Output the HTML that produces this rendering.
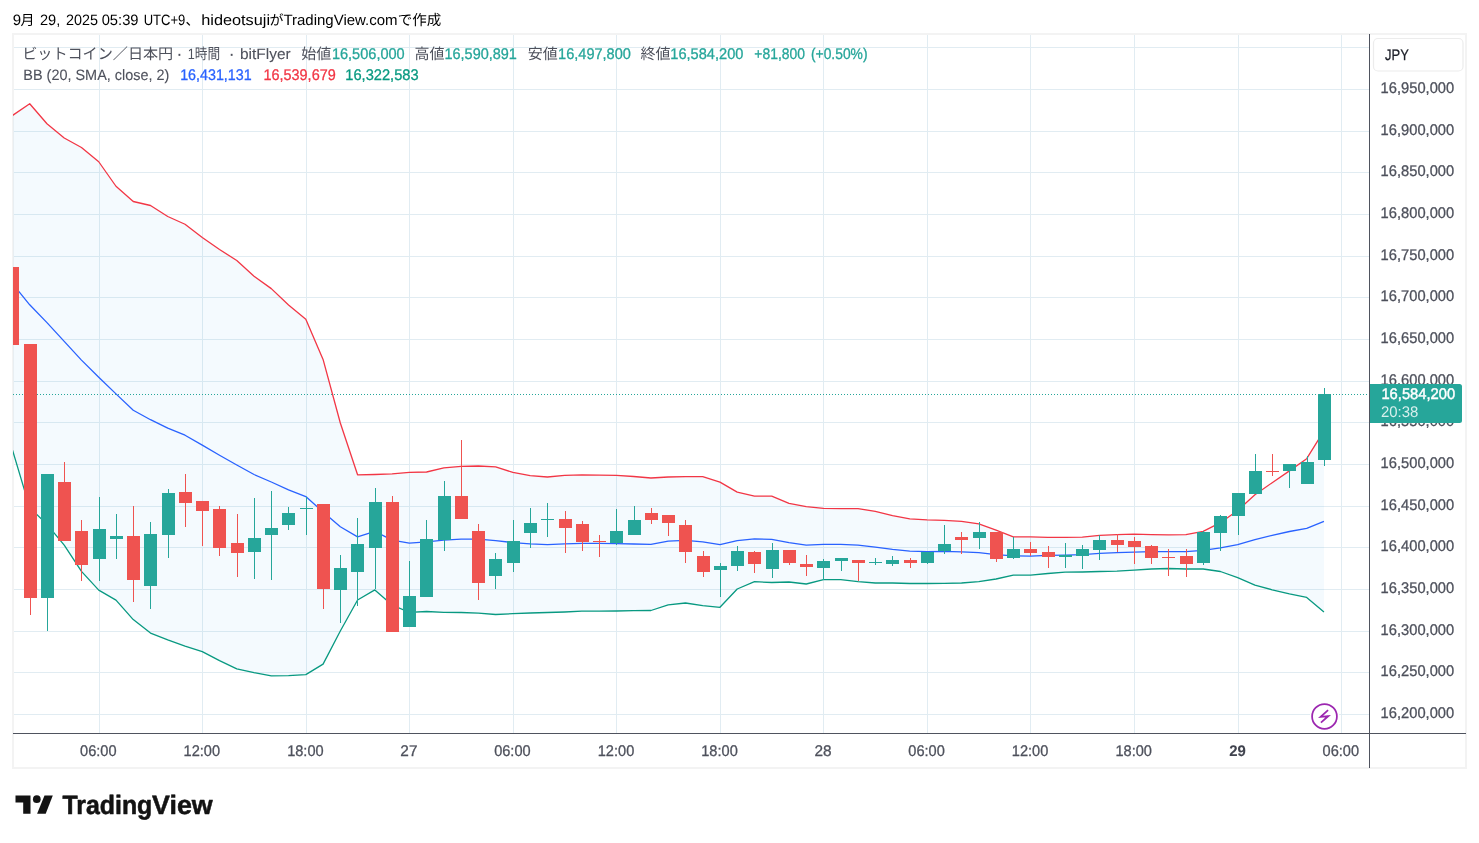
<!DOCTYPE html>
<html lang="ja"><head><meta charset="utf-8"><title>BTCJPY chart</title>
<style>html,body{margin:0;padding:0;background:#fff;}body{width:1479px;height:843px;overflow:hidden;position:relative;}svg{position:absolute;left:0;top:0;display:block;}text{font-family:"Liberation Sans","Noto Sans CJK JP",sans-serif;white-space:pre;text-rendering:geometricPrecision;}</style></head><body>
<svg width="1479" height="843" viewBox="0 0 1479 843">
<rect x="13" y="34" width="1453" height="734" fill="#fff" stroke="#f3f3f3" stroke-width="2"/>
<defs><clipPath id="pane"><rect x="13" y="35" width="1356" height="698"/></clipPath></defs>
<g shape-rendering="crispEdges" fill="#e1ecf2">
<rect x="14" y="47" width="1355" height="1"/>
<rect x="14" y="89" width="1355" height="1"/>
<rect x="14" y="131" width="1355" height="1"/>
<rect x="14" y="172" width="1355" height="1"/>
<rect x="14" y="214" width="1355" height="1"/>
<rect x="14" y="256" width="1355" height="1"/>
<rect x="14" y="297" width="1355" height="1"/>
<rect x="14" y="339" width="1355" height="1"/>
<rect x="14" y="381" width="1355" height="1"/>
<rect x="14" y="422" width="1355" height="1"/>
<rect x="14" y="464" width="1355" height="1"/>
<rect x="14" y="506" width="1355" height="1"/>
<rect x="14" y="547" width="1355" height="1"/>
<rect x="14" y="589" width="1355" height="1"/>
<rect x="14" y="631" width="1355" height="1"/>
<rect x="14" y="672" width="1355" height="1"/>
<rect x="14" y="714" width="1355" height="1"/>
<rect x="99" y="35" width="1" height="698"/>
<rect x="202" y="35" width="1" height="698"/>
<rect x="306" y="35" width="1" height="698"/>
<rect x="409" y="35" width="1" height="698"/>
<rect x="513" y="35" width="1" height="698"/>
<rect x="616" y="35" width="1" height="698"/>
<rect x="720" y="35" width="1" height="698"/>
<rect x="823" y="35" width="1" height="698"/>
<rect x="927" y="35" width="1" height="698"/>
<rect x="1030" y="35" width="1" height="698"/>
<rect x="1134" y="35" width="1" height="698"/>
<rect x="1238" y="35" width="1" height="698"/>
<rect x="1341" y="35" width="1" height="698"/>
</g>
<g clip-path="url(#pane)">
<polygon points="12.45,115.50 29.71,103.75 46.96,123.75 64.22,138.00 81.48,147.50 98.73,161.75 115.99,186.25 133.25,201.50 150.50,205.50 167.76,216.50 185.02,224.25 202.27,237.50 219.53,249.50 236.78,260.50 254.04,276.20 271.30,288.60 288.55,305.00 305.81,319.30 323.07,359.40 340.32,423.00 357.58,474.80 374.84,474.50 392.09,473.90 409.35,472.40 426.61,472.00 443.86,467.90 461.12,466.30 478.38,466.00 495.63,466.90 512.89,472.40 530.14,475.60 547.40,477.00 564.66,475.30 581.91,474.80 599.17,475.10 616.43,475.30 633.68,476.50 650.94,478.00 668.20,477.00 685.45,476.70 702.71,476.70 719.97,482.10 737.22,492.10 754.48,496.10 771.74,496.10 788.99,503.40 806.25,506.60 823.51,508.40 840.76,508.60 858.02,508.60 875.27,511.40 892.53,515.60 909.79,518.90 927.04,519.90 944.30,520.30 961.56,521.40 978.81,523.90 996.07,530.20 1013.33,536.90 1030.58,536.90 1047.84,537.40 1065.10,537.40 1082.35,537.20 1099.61,535.40 1116.87,534.70 1134.12,534.20 1151.38,534.70 1168.64,534.90 1185.89,534.70 1203.15,531.40 1220.40,522.70 1237.66,510.50 1254.92,494.70 1272.17,482.70 1289.43,470.90 1306.69,458.70 1323.94,430.90 1323.94,612.00 1306.69,597.40 1289.43,593.90 1272.17,589.80 1254.92,585.20 1237.66,577.70 1220.40,571.50 1203.15,569.00 1185.89,569.00 1168.64,568.50 1151.38,569.00 1134.12,570.20 1116.87,571.20 1099.61,571.50 1082.35,572.00 1065.10,572.20 1047.84,573.50 1030.58,575.20 1013.33,575.20 996.07,579.00 978.81,581.70 961.56,583.00 944.30,583.40 927.04,583.50 909.79,583.50 892.53,583.00 875.27,583.00 858.02,581.70 840.76,579.70 823.51,579.70 806.25,584.00 788.99,582.00 771.74,582.50 754.48,581.70 737.22,589.00 719.97,607.30 702.71,605.70 685.45,603.00 668.20,604.90 650.94,610.50 633.68,610.70 616.43,611.00 599.17,611.20 581.91,611.20 564.66,612.00 547.40,612.50 530.14,613.00 512.89,613.70 495.63,614.50 478.38,613.20 461.12,612.50 443.86,612.30 426.61,611.50 409.35,612.40 392.09,605.00 374.84,589.90 357.58,600.00 340.32,631.00 323.07,664.10 305.81,674.60 288.55,675.60 271.30,675.90 254.04,672.60 236.78,668.80 219.53,660.60 202.27,651.60 185.02,646.10 167.76,639.90 150.50,633.10 133.25,619.60 115.99,600.10 98.73,590.10 81.48,571.40 64.22,545.10 46.96,524.40 29.71,507.60 12.45,450.00" fill="#2196f3" fill-opacity="0.05"/>
<polyline fill="none" stroke="#f23645" stroke-width="1.3" stroke-linejoin="round" points="12.45,115.50 29.71,103.75 46.96,123.75 64.22,138.00 81.48,147.50 98.73,161.75 115.99,186.25 133.25,201.50 150.50,205.50 167.76,216.50 185.02,224.25 202.27,237.50 219.53,249.50 236.78,260.50 254.04,276.20 271.30,288.60 288.55,305.00 305.81,319.30 323.07,359.40 340.32,423.00 357.58,474.80 374.84,474.50 392.09,473.90 409.35,472.40 426.61,472.00 443.86,467.90 461.12,466.30 478.38,466.00 495.63,466.90 512.89,472.40 530.14,475.60 547.40,477.00 564.66,475.30 581.91,474.80 599.17,475.10 616.43,475.30 633.68,476.50 650.94,478.00 668.20,477.00 685.45,476.70 702.71,476.70 719.97,482.10 737.22,492.10 754.48,496.10 771.74,496.10 788.99,503.40 806.25,506.60 823.51,508.40 840.76,508.60 858.02,508.60 875.27,511.40 892.53,515.60 909.79,518.90 927.04,519.90 944.30,520.30 961.56,521.40 978.81,523.90 996.07,530.20 1013.33,536.90 1030.58,536.90 1047.84,537.40 1065.10,537.40 1082.35,537.20 1099.61,535.40 1116.87,534.70 1134.12,534.20 1151.38,534.70 1168.64,534.90 1185.89,534.70 1203.15,531.40 1220.40,522.70 1237.66,510.50 1254.92,494.70 1272.17,482.70 1289.43,470.90 1306.69,458.70 1323.94,430.90"/>
<polyline fill="none" stroke="#089981" stroke-width="1.3" stroke-linejoin="round" points="12.45,450.00 29.71,507.60 46.96,524.40 64.22,545.10 81.48,571.40 98.73,590.10 115.99,600.10 133.25,619.60 150.50,633.10 167.76,639.90 185.02,646.10 202.27,651.60 219.53,660.60 236.78,668.80 254.04,672.60 271.30,675.90 288.55,675.60 305.81,674.60 323.07,664.10 340.32,631.00 357.58,600.00 374.84,589.90 392.09,605.00 409.35,612.40 426.61,611.50 443.86,612.30 461.12,612.50 478.38,613.20 495.63,614.50 512.89,613.70 530.14,613.00 547.40,612.50 564.66,612.00 581.91,611.20 599.17,611.20 616.43,611.00 633.68,610.70 650.94,610.50 668.20,604.90 685.45,603.00 702.71,605.70 719.97,607.30 737.22,589.00 754.48,581.70 771.74,582.50 788.99,582.00 806.25,584.00 823.51,579.70 840.76,579.70 858.02,581.70 875.27,583.00 892.53,583.00 909.79,583.50 927.04,583.50 944.30,583.40 961.56,583.00 978.81,581.70 996.07,579.00 1013.33,575.20 1030.58,575.20 1047.84,573.50 1065.10,572.20 1082.35,572.00 1099.61,571.50 1116.87,571.20 1134.12,570.20 1151.38,569.00 1168.64,568.50 1185.89,569.00 1203.15,569.00 1220.40,571.50 1237.66,577.70 1254.92,585.20 1272.17,589.80 1289.43,593.90 1306.69,597.40 1323.94,612.00"/>
<polyline fill="none" stroke="#2962ff" stroke-width="1.3" stroke-linejoin="round" points="12.45,283.50 29.71,304.80 46.96,322.60 64.22,341.40 81.48,360.10 98.73,377.20 115.99,393.90 133.25,410.20 150.50,419.70 167.76,428.20 185.02,435.20 202.27,445.10 219.53,455.20 236.78,465.00 254.04,474.50 271.30,482.00 288.55,489.80 305.81,496.60 323.07,512.00 340.32,526.80 357.58,536.90 374.84,531.40 392.09,540.10 409.35,543.10 426.61,541.90 443.86,540.10 461.12,539.10 478.38,539.10 495.63,540.60 512.89,542.60 530.14,543.90 547.40,544.60 564.66,543.90 581.91,543.40 599.17,543.40 616.43,543.60 633.68,544.00 650.94,544.40 668.20,541.10 685.45,540.30 702.71,541.80 719.97,544.70 737.22,540.70 754.48,538.90 771.74,539.40 788.99,542.70 806.25,545.20 823.51,544.40 840.76,544.40 858.02,545.20 875.27,547.20 892.53,549.40 909.79,551.20 927.04,551.70 944.30,551.30 961.56,551.90 978.81,552.70 996.07,554.70 1013.33,555.90 1030.58,556.20 1047.84,555.40 1065.10,555.20 1082.35,554.70 1099.61,553.40 1116.87,552.70 1134.12,552.20 1151.38,551.70 1168.64,551.70 1185.89,551.70 1203.15,550.40 1220.40,547.90 1237.66,544.70 1254.92,539.70 1272.17,535.40 1289.43,531.50 1306.69,528.30 1323.94,521.40"/>
</g>
<line x1="13" y1="394.5" x2="1368" y2="394.5" stroke="#26a69a" stroke-width="1" stroke-dasharray="1 2" shape-rendering="crispEdges"/>
<g clip-path="url(#pane)" shape-rendering="crispEdges">
<rect x="12" y="267" width="1" height="78" fill="#ef5350"/>
<rect x="6" y="267" width="13" height="78" fill="#ef5350"/>
<rect x="30" y="344" width="1" height="271" fill="#ef5350"/>
<rect x="24" y="344" width="13" height="254" fill="#ef5350"/>
<rect x="47" y="474" width="1" height="157" fill="#26a69a"/>
<rect x="41" y="474" width="13" height="124" fill="#26a69a"/>
<rect x="64" y="462" width="1" height="79" fill="#ef5350"/>
<rect x="58" y="482" width="13" height="59" fill="#ef5350"/>
<rect x="81" y="520" width="1" height="61" fill="#ef5350"/>
<rect x="75" y="531" width="13" height="34" fill="#ef5350"/>
<rect x="99" y="497" width="1" height="84" fill="#26a69a"/>
<rect x="93" y="529" width="13" height="30" fill="#26a69a"/>
<rect x="116" y="514" width="1" height="45" fill="#26a69a"/>
<rect x="110" y="536" width="13" height="3" fill="#26a69a"/>
<rect x="133" y="506" width="1" height="96" fill="#ef5350"/>
<rect x="127" y="536" width="13" height="44" fill="#ef5350"/>
<rect x="150" y="522" width="1" height="87" fill="#26a69a"/>
<rect x="144" y="534" width="13" height="52" fill="#26a69a"/>
<rect x="168" y="489" width="1" height="69" fill="#26a69a"/>
<rect x="162" y="493" width="13" height="42" fill="#26a69a"/>
<rect x="185" y="474" width="1" height="53" fill="#ef5350"/>
<rect x="179" y="492" width="13" height="11" fill="#ef5350"/>
<rect x="202" y="501" width="1" height="45" fill="#ef5350"/>
<rect x="196" y="501" width="13" height="10" fill="#ef5350"/>
<rect x="219" y="506" width="1" height="50" fill="#ef5350"/>
<rect x="213" y="509" width="13" height="39" fill="#ef5350"/>
<rect x="237" y="514" width="1" height="63" fill="#ef5350"/>
<rect x="231" y="543" width="13" height="10" fill="#ef5350"/>
<rect x="254" y="498" width="1" height="81" fill="#26a69a"/>
<rect x="248" y="538" width="13" height="14" fill="#26a69a"/>
<rect x="271" y="491" width="1" height="89" fill="#26a69a"/>
<rect x="265" y="528" width="13" height="7" fill="#26a69a"/>
<rect x="288" y="507" width="1" height="23" fill="#26a69a"/>
<rect x="282" y="513" width="13" height="12" fill="#26a69a"/>
<rect x="306" y="497" width="1" height="38" fill="#26a69a"/>
<rect x="300" y="508" width="13" height="1" fill="#26a69a"/>
<rect x="323" y="504" width="1" height="105" fill="#ef5350"/>
<rect x="317" y="504" width="13" height="85" fill="#ef5350"/>
<rect x="340" y="555" width="1" height="68" fill="#26a69a"/>
<rect x="334" y="568" width="13" height="22" fill="#26a69a"/>
<rect x="357" y="518" width="1" height="88" fill="#26a69a"/>
<rect x="351" y="544" width="13" height="28" fill="#26a69a"/>
<rect x="375" y="488" width="1" height="101" fill="#26a69a"/>
<rect x="369" y="502" width="13" height="46" fill="#26a69a"/>
<rect x="392" y="496" width="1" height="136" fill="#ef5350"/>
<rect x="386" y="502" width="13" height="130" fill="#ef5350"/>
<rect x="409" y="561" width="1" height="66" fill="#26a69a"/>
<rect x="403" y="596" width="13" height="31" fill="#26a69a"/>
<rect x="426" y="520" width="1" height="77" fill="#26a69a"/>
<rect x="420" y="539" width="13" height="58" fill="#26a69a"/>
<rect x="444" y="481" width="1" height="70" fill="#26a69a"/>
<rect x="438" y="496" width="13" height="44" fill="#26a69a"/>
<rect x="461" y="440" width="1" height="79" fill="#ef5350"/>
<rect x="455" y="496" width="13" height="23" fill="#ef5350"/>
<rect x="478" y="524" width="1" height="76" fill="#ef5350"/>
<rect x="472" y="531" width="13" height="52" fill="#ef5350"/>
<rect x="495" y="553" width="1" height="36" fill="#26a69a"/>
<rect x="489" y="559" width="13" height="17" fill="#26a69a"/>
<rect x="513" y="520" width="1" height="52" fill="#26a69a"/>
<rect x="507" y="541" width="13" height="22" fill="#26a69a"/>
<rect x="530" y="508" width="1" height="40" fill="#26a69a"/>
<rect x="524" y="523" width="13" height="10" fill="#26a69a"/>
<rect x="547" y="503" width="1" height="34" fill="#26a69a"/>
<rect x="541" y="519" width="13" height="1" fill="#26a69a"/>
<rect x="565" y="511" width="1" height="42" fill="#ef5350"/>
<rect x="559" y="519" width="13" height="9" fill="#ef5350"/>
<rect x="582" y="521" width="1" height="30" fill="#ef5350"/>
<rect x="576" y="524" width="13" height="18" fill="#ef5350"/>
<rect x="599" y="535" width="1" height="22" fill="#ef5350"/>
<rect x="593" y="541" width="13" height="1" fill="#ef5350"/>
<rect x="616" y="509" width="1" height="36" fill="#26a69a"/>
<rect x="610" y="531" width="13" height="12" fill="#26a69a"/>
<rect x="634" y="506" width="1" height="29" fill="#26a69a"/>
<rect x="628" y="520" width="13" height="15" fill="#26a69a"/>
<rect x="651" y="508" width="1" height="16" fill="#ef5350"/>
<rect x="645" y="513" width="13" height="7" fill="#ef5350"/>
<rect x="668" y="515" width="1" height="21" fill="#ef5350"/>
<rect x="662" y="515" width="13" height="8" fill="#ef5350"/>
<rect x="685" y="520" width="1" height="43" fill="#ef5350"/>
<rect x="679" y="525" width="13" height="27" fill="#ef5350"/>
<rect x="703" y="551" width="1" height="26" fill="#ef5350"/>
<rect x="697" y="556" width="13" height="16" fill="#ef5350"/>
<rect x="720" y="563" width="1" height="34" fill="#26a69a"/>
<rect x="714" y="566" width="13" height="4" fill="#26a69a"/>
<rect x="737" y="546" width="1" height="25" fill="#26a69a"/>
<rect x="731" y="551" width="13" height="15" fill="#26a69a"/>
<rect x="754" y="551" width="1" height="22" fill="#ef5350"/>
<rect x="748" y="552" width="13" height="12" fill="#ef5350"/>
<rect x="772" y="543" width="1" height="35" fill="#26a69a"/>
<rect x="766" y="550" width="13" height="19" fill="#26a69a"/>
<rect x="789" y="550" width="1" height="15" fill="#ef5350"/>
<rect x="783" y="550" width="13" height="13" fill="#ef5350"/>
<rect x="806" y="555" width="1" height="21" fill="#ef5350"/>
<rect x="800" y="564" width="13" height="3" fill="#ef5350"/>
<rect x="823" y="559" width="1" height="21" fill="#26a69a"/>
<rect x="817" y="561" width="13" height="7" fill="#26a69a"/>
<rect x="841" y="558" width="1" height="13" fill="#26a69a"/>
<rect x="835" y="558" width="13" height="3" fill="#26a69a"/>
<rect x="858" y="560" width="1" height="21" fill="#ef5350"/>
<rect x="852" y="560" width="13" height="3" fill="#ef5350"/>
<rect x="875" y="558" width="1" height="7" fill="#26a69a"/>
<rect x="869" y="562" width="13" height="1" fill="#26a69a"/>
<rect x="892" y="556" width="1" height="10" fill="#26a69a"/>
<rect x="886" y="560" width="13" height="4" fill="#26a69a"/>
<rect x="910" y="558" width="1" height="10" fill="#ef5350"/>
<rect x="904" y="560" width="13" height="3" fill="#ef5350"/>
<rect x="927" y="552" width="1" height="12" fill="#26a69a"/>
<rect x="921" y="552" width="13" height="11" fill="#26a69a"/>
<rect x="944" y="525" width="1" height="29" fill="#26a69a"/>
<rect x="938" y="544" width="13" height="7" fill="#26a69a"/>
<rect x="961" y="532" width="1" height="22" fill="#ef5350"/>
<rect x="955" y="537" width="13" height="3" fill="#ef5350"/>
<rect x="979" y="522" width="1" height="27" fill="#26a69a"/>
<rect x="973" y="532" width="13" height="6" fill="#26a69a"/>
<rect x="996" y="532" width="1" height="30" fill="#ef5350"/>
<rect x="990" y="532" width="13" height="27" fill="#ef5350"/>
<rect x="1013" y="537" width="1" height="22" fill="#26a69a"/>
<rect x="1007" y="549" width="13" height="9" fill="#26a69a"/>
<rect x="1030" y="542" width="1" height="14" fill="#ef5350"/>
<rect x="1024" y="549" width="13" height="4" fill="#ef5350"/>
<rect x="1048" y="546" width="1" height="22" fill="#ef5350"/>
<rect x="1042" y="552" width="13" height="5" fill="#ef5350"/>
<rect x="1065" y="543" width="1" height="25" fill="#26a69a"/>
<rect x="1059" y="555" width="13" height="2" fill="#26a69a"/>
<rect x="1082" y="545" width="1" height="24" fill="#26a69a"/>
<rect x="1076" y="549" width="13" height="7" fill="#26a69a"/>
<rect x="1099" y="535" width="1" height="25" fill="#26a69a"/>
<rect x="1093" y="540" width="13" height="10" fill="#26a69a"/>
<rect x="1117" y="534" width="1" height="18" fill="#ef5350"/>
<rect x="1111" y="540" width="13" height="5" fill="#ef5350"/>
<rect x="1134" y="537" width="1" height="27" fill="#ef5350"/>
<rect x="1128" y="541" width="13" height="6" fill="#ef5350"/>
<rect x="1151" y="545" width="1" height="19" fill="#ef5350"/>
<rect x="1145" y="546" width="13" height="12" fill="#ef5350"/>
<rect x="1168" y="549" width="1" height="27" fill="#ef5350"/>
<rect x="1162" y="557" width="13" height="1" fill="#ef5350"/>
<rect x="1186" y="549" width="1" height="28" fill="#ef5350"/>
<rect x="1180" y="556" width="13" height="8" fill="#ef5350"/>
<rect x="1203" y="531" width="1" height="34" fill="#26a69a"/>
<rect x="1197" y="532" width="13" height="31" fill="#26a69a"/>
<rect x="1220" y="515" width="1" height="36" fill="#26a69a"/>
<rect x="1214" y="516" width="13" height="17" fill="#26a69a"/>
<rect x="1238" y="493" width="1" height="42" fill="#26a69a"/>
<rect x="1232" y="493" width="13" height="23" fill="#26a69a"/>
<rect x="1255" y="454" width="1" height="40" fill="#26a69a"/>
<rect x="1249" y="471" width="13" height="23" fill="#26a69a"/>
<rect x="1272" y="454" width="1" height="22" fill="#ef5350"/>
<rect x="1266" y="471" width="13" height="1" fill="#ef5350"/>
<rect x="1289" y="464" width="1" height="24" fill="#26a69a"/>
<rect x="1283" y="464" width="13" height="7" fill="#26a69a"/>
<rect x="1307" y="456" width="1" height="28" fill="#26a69a"/>
<rect x="1301" y="462" width="13" height="22" fill="#26a69a"/>
<rect x="1324" y="388" width="1" height="78" fill="#26a69a"/>
<rect x="1318" y="394" width="13" height="66" fill="#26a69a"/>
</g>
<g shape-rendering="crispEdges" fill="#4f535e">
<rect x="1369" y="34" width="1" height="734"/>
<rect x="13" y="733" width="1453" height="1"/>
</g>
<g transform="translate(1324.5,716.4)">
<circle r="14.7" fill="#fff"/>
<circle r="12.4" fill="#fff" stroke="#9c27b0" stroke-width="1.75"/>
<path d="M3.58,-6.26 L-3.9,0.38 L3.9,-0.38 L-3.58,6.26" fill="none" stroke="#9c27b0" stroke-width="1.75" stroke-linejoin="miter" stroke-miterlimit="12"/>
</g>
<rect x="1373.5" y="38.5" width="89.5" height="32.5" rx="4.5" fill="#fff" stroke="#ececec" stroke-width="1.2"/>
<text x="1385" y="60" font-size="15.3" fill="#1c1f28" stroke="#1c1f28" stroke-width="0.25" textLength="23.8" lengthAdjust="spacingAndGlyphs">JPY</text>
<g font-size="15.4" fill="#4e515c" stroke="#4e515c" stroke-width="0.3">
<text x="1380.6" y="93.0" textLength="73.6" lengthAdjust="spacingAndGlyphs">16,950,000</text>
<text x="1380.6" y="134.7" textLength="73.6" lengthAdjust="spacingAndGlyphs">16,900,000</text>
<text x="1380.6" y="176.3" textLength="73.6" lengthAdjust="spacingAndGlyphs">16,850,000</text>
<text x="1380.6" y="218.0" textLength="73.6" lengthAdjust="spacingAndGlyphs">16,800,000</text>
<text x="1380.6" y="259.7" textLength="73.6" lengthAdjust="spacingAndGlyphs">16,750,000</text>
<text x="1380.6" y="301.3" textLength="73.6" lengthAdjust="spacingAndGlyphs">16,700,000</text>
<text x="1380.6" y="343.0" textLength="73.6" lengthAdjust="spacingAndGlyphs">16,650,000</text>
<text x="1380.6" y="384.7" textLength="73.6" lengthAdjust="spacingAndGlyphs">16,600,000</text>
<text x="1380.6" y="426.3" textLength="73.6" lengthAdjust="spacingAndGlyphs">16,550,000</text>
<text x="1380.6" y="468.0" textLength="73.6" lengthAdjust="spacingAndGlyphs">16,500,000</text>
<text x="1380.6" y="509.7" textLength="73.6" lengthAdjust="spacingAndGlyphs">16,450,000</text>
<text x="1380.6" y="551.3" textLength="73.6" lengthAdjust="spacingAndGlyphs">16,400,000</text>
<text x="1380.6" y="593.0" textLength="73.6" lengthAdjust="spacingAndGlyphs">16,350,000</text>
<text x="1380.6" y="634.7" textLength="73.6" lengthAdjust="spacingAndGlyphs">16,300,000</text>
<text x="1380.6" y="676.3" textLength="73.6" lengthAdjust="spacingAndGlyphs">16,250,000</text>
<text x="1380.6" y="718.0" textLength="73.6" lengthAdjust="spacingAndGlyphs">16,200,000</text>
</g>
<path d="M1370,384 H1459.5 Q1462,384 1462,386.5 V420.5 Q1462,423 1459.5,423 H1370 Z" fill="#26a69a"/>
<text x="1381.4" y="398.5" font-size="15.4" fill="#fff" stroke="#fff" stroke-width="0.45" textLength="73.8" lengthAdjust="spacingAndGlyphs">16,584,200</text>
<text x="1380.9" y="416.6" font-size="15.4" fill="#fff" fill-opacity="0.82" textLength="37.4" lengthAdjust="spacingAndGlyphs">20:38</text>
<g font-size="15.4" fill="#4e515c" stroke="#4e515c" stroke-width="0.3" text-anchor="middle">
<text x="98.3" y="755.8" textLength="36.5" lengthAdjust="spacingAndGlyphs">06:00</text>
<text x="201.8" y="755.8" textLength="36.5" lengthAdjust="spacingAndGlyphs">12:00</text>
<text x="305.4" y="755.8" textLength="36.5" lengthAdjust="spacingAndGlyphs">18:00</text>
<text x="408.9" y="755.8">27</text>
<text x="512.4" y="755.8" textLength="36.5" lengthAdjust="spacingAndGlyphs">06:00</text>
<text x="616.0" y="755.8" textLength="36.5" lengthAdjust="spacingAndGlyphs">12:00</text>
<text x="719.5" y="755.8" textLength="36.5" lengthAdjust="spacingAndGlyphs">18:00</text>
<text x="823.1" y="755.8">28</text>
<text x="926.6" y="755.8" textLength="36.5" lengthAdjust="spacingAndGlyphs">06:00</text>
<text x="1030.1" y="755.8" textLength="36.5" lengthAdjust="spacingAndGlyphs">12:00</text>
<text x="1133.7" y="755.8" textLength="36.5" lengthAdjust="spacingAndGlyphs">18:00</text>
<text x="1237.5" y="755.8" font-weight="bold" fill="#40434e" stroke-width="0.1" textLength="16.6" lengthAdjust="spacingAndGlyphs">29</text>
<text x="1340.8" y="755.8" textLength="36.5" lengthAdjust="spacingAndGlyphs">06:00</text>
</g>
<g font-size="15" fill="#000">
<text y="24.5"><tspan x="12.8">9</tspan><tspan x="20.6" font-size="14">月 </tspan><tspan x="40.0" textLength="20.3" lengthAdjust="spacingAndGlyphs">29,</tspan><tspan x="60.5"> </tspan><tspan x="66.0" textLength="32" lengthAdjust="spacingAndGlyphs">2025</tspan><tspan x="98"> </tspan><tspan x="101.7" textLength="36.8" lengthAdjust="spacingAndGlyphs">05:39</tspan><tspan x="139.5"> </tspan><tspan x="143.7" textLength="41.6" lengthAdjust="spacingAndGlyphs">UTC+9</tspan><tspan x="185.4" font-size="14">、</tspan><tspan x="201.2" textLength="68.9" lengthAdjust="spacingAndGlyphs">hideotsuji</tspan><tspan x="269.6" font-size="14">が</tspan><tspan x="283.4" textLength="114.2" lengthAdjust="spacingAndGlyphs">TradingView.com</tspan><tspan x="397.7" font-size="14.5">で作成</tspan></text>
</g>
<text x="22.2" y="59.2" font-size="15" fill="#4e515c" textLength="151" lengthAdjust="spacingAndGlyphs">ビットコイン／日本円</text>
<text x="176.3" y="60.4" font-size="19" fill="#4e515c">·</text>
<text x="187.8" y="59.2" font-size="15" fill="#4e515c" stroke="#4e515c" stroke-width="0" textLength="32.4" lengthAdjust="spacingAndGlyphs">1時間</text>
<text x="228.6" y="60.4" font-size="19" fill="#4e515c">·</text>
<text x="240.0" y="59.2" font-size="15" fill="#4e515c" stroke="#4e515c" stroke-width="0.1" textLength="50.7" lengthAdjust="spacingAndGlyphs">bitFlyer</text>
<text x="301.3" y="59.2" font-size="15" fill="#4e515c">始値</text>
<text x="331.9" y="59.2" font-size="15.4" fill="#26a69a" stroke="#26a69a" stroke-width="0.3" textLength="72.8" lengthAdjust="spacingAndGlyphs">16,506,000</text>
<text x="414.5" y="59.2" font-size="15" fill="#4e515c">高値</text>
<text x="444.5" y="59.2" font-size="15.4" fill="#26a69a" stroke="#26a69a" stroke-width="0.3" textLength="72.4" lengthAdjust="spacingAndGlyphs">16,590,891</text>
<text x="527.8" y="59.2" font-size="15" fill="#4e515c">安値</text>
<text x="558.1" y="59.2" font-size="15.4" fill="#26a69a" stroke="#26a69a" stroke-width="0.3" textLength="72.8" lengthAdjust="spacingAndGlyphs">16,497,800</text>
<text x="640.4" y="59.2" font-size="15" fill="#4e515c">終値</text>
<text x="670.3" y="59.2" font-size="15.4" fill="#26a69a" stroke="#26a69a" stroke-width="0.3" textLength="73.1" lengthAdjust="spacingAndGlyphs">16,584,200</text>
<text x="754.3" y="59.2" font-size="15.4" fill="#26a69a" stroke="#26a69a" stroke-width="0.3" textLength="50.7" lengthAdjust="spacingAndGlyphs">+81,800</text>
<text x="811.0" y="59.2" font-size="15.4" fill="#26a69a" stroke="#26a69a" stroke-width="0.3" textLength="56.5" lengthAdjust="spacingAndGlyphs">(+0.50%)</text>
<text x="23.3" y="80.2" font-size="15" fill="#4e515c" stroke="#4e515c" stroke-width="0.1" textLength="146.1" lengthAdjust="spacingAndGlyphs">BB (20, SMA, close, 2)</text>
<text x="180.2" y="80.2" font-size="15.4" fill="#2962ff" stroke="#2962ff" stroke-width="0.3" textLength="71.4" lengthAdjust="spacingAndGlyphs">16,431,131</text>
<text x="263.5" y="80.2" font-size="15.4" fill="#f23645" stroke="#f23645" stroke-width="0.3" textLength="72.2" lengthAdjust="spacingAndGlyphs">16,539,679</text>
<text x="345.3" y="80.2" font-size="15.4" fill="#089981" stroke="#089981" stroke-width="0.3" textLength="73.3" lengthAdjust="spacingAndGlyphs">16,322,583</text>
<g fill="#131313">
<path d="M15.5,795.5 H30.5 V813.8 H23.2 V802.6 H15.5 Z"/>
<circle cx="36.8" cy="799.15" r="3.85"/>
<path d="M44.5,795.5 H52.8 L45.7,813.8 H37.1 Z"/>
<text y="813.75" font-size="26.5" font-weight="bold" stroke="#131313" stroke-width="0.55" stroke-linejoin="round"><tspan x="62.4" textLength="89.9" lengthAdjust="spacingAndGlyphs">Trading</tspan><tspan x="152.1" textLength="60.6" lengthAdjust="spacingAndGlyphs">View</tspan></text>
</g>
</svg></body></html>
